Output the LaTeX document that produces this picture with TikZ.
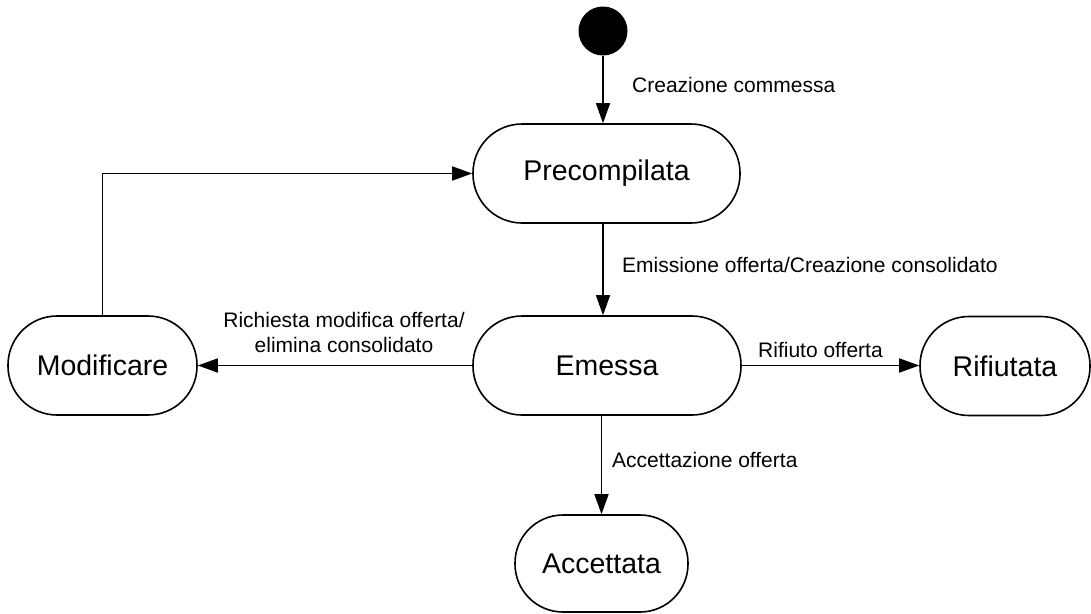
\documentclass[tikz,border=0pt]{standalone}
\usepackage{fontspec}
\setmainfont{Liberation Sans}
\usetikzlibrary{arrows.meta}
\begin{document}
\begin{tikzpicture}[x=1pt,y=-1pt,
  state/.style={draw, line width=1.6pt, rounded corners=49pt, minimum height=99pt,
    inner sep=0pt, font=\fontsize{28.5}{34}\selectfont},
  trans/.style={line width=1.6pt, -{Triangle[length=20pt,width=14pt]}},
  lbl/.style={font=\fontsize{21}{25}\selectfont, inner sep=0pt}]
\useasboundingbox (0,0) rectangle (1091,613);

% initial pseudo-state
\node[circle, fill=black, minimum size=49pt, inner sep=0pt] (start) at (603,31) {};

% states
\node[state, minimum width=267pt] (prec) at (606.5,173.5) {Precompilata};
\node[state, minimum width=268pt] (emessa) at (607,365.5) {Emessa};
\node[state, minimum width=189pt] (modif) at (102.5,365.5) {Modificare};
\node[state, minimum width=170pt] (rif) at (1005,366) {Rifiutata};
\node[state, minimum width=173pt, minimum height=97pt, rounded corners=48pt] (acc) at (601.5,563.5) {Accettata};

% transitions
\draw[trans] (start) -- (start |- prec.north);
\draw[trans] (prec.south -| start) -- (emessa.north -| start);
\draw[trans] (emessa.south -| acc) -- (acc.north);
\draw[trans] (emessa.west) -- (modif.east);
\draw[trans] (emessa.east) -- (rif.west |- emessa.east);
\draw[trans] (modif.north) |- (prec.west);

% transition labels
\node[lbl, anchor=base west] (l1) at (632,92) {Creazione commessa};
\node[lbl, anchor=base west] (l2) at (622,272) {Emissione offerta/Creazione consolidato};
\node[lbl, anchor=south, align=center] (l3) at (344,353) {Richiesta modifica offerta/\\elimina consolidato};
\node[lbl, anchor=base west] (l4) at (758,357) {Rifiuto offerta};
\node[lbl, anchor=base west] (l5) at (612,467) {Accettazione offerta};
\end{tikzpicture}
\end{document}
